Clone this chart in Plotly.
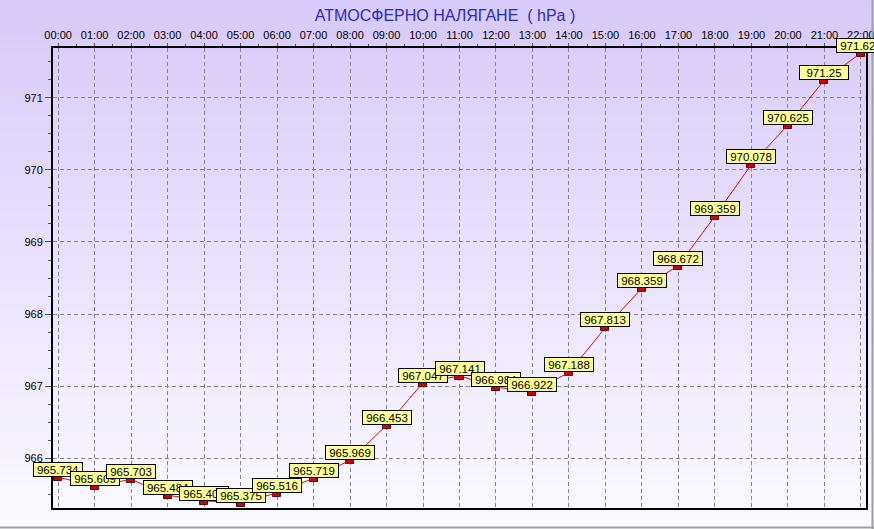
import plotly.graph_objects as go

hours = list(range(23))
hour_labels = [f"{h:02d}:00" for h in hours]
pressure = [965.734, 965.609, 965.703, 965.484, 965.406, 965.375, 965.516, 965.719,
            965.969, 966.453, 967.047, 967.141, 966.984, 966.922, 967.188, 967.813,
            968.359, 968.672, 969.359, 970.078, 970.625, 971.25, 971.625]
y_ticks = [966, 967, 968, 969, 970, 971]
title_text = "АТМОСФЕРНО НАЛЯГАНЕ  ( hPa )"

W, H = 874, 529
ML, MR, MT, MB = 53, 8, 48, 21
PW, PH = W - ML - MR, H - MT - MB

fig = go.Figure()

# red connecting line
fig.add_trace(go.Scatter(x=hours, y=pressure, mode="lines",
                         line=dict(color="#d81010", width=1), hoverinfo="skip",
                         showlegend=False, cliponaxis=False))
# rectangular markers (hang just below each point)
mk_h = 0.055
fig.add_trace(go.Bar(x=hours, y=[mk_h] * len(pressure), base=[v - mk_h for v in pressure],
                     width=0.22, marker=dict(color="#cc0000", line=dict(color="#5a0000", width=1)),
                     showlegend=False, hoverinfo="skip"))

# gradient background
shapes = []
n = 60
x0p, x1p = -ML / PW, 1 + MR / PW
ytop, ybot = 1 + MT / PH, -MB / PH
c_top = (216, 202, 250)
c_bot = (251, 250, 255)
for i in range(n):
    t = i / (n - 1)
    c = tuple(round(c_top[k] + (c_bot[k] - c_top[k]) * t) for k in range(3))
    ya = ytop + (ybot - ytop) * i / n
    yb = ytop + (ybot - ytop) * (i + 1) / n
    shapes.append(dict(type="rect", xref="paper", yref="paper", x0=x0p, x1=x1p,
                       y0=yb - 0.002, y1=ya, fillcolor=f"rgb{c}", line=dict(width=0), layer="below"))
# window border lines
shapes.append(dict(type="line", xref="paper", yref="paper", x0=x0p, x1=x1p,
                   y0=-(MB - 1.5) / PH, y1=-(MB - 1.5) / PH, line=dict(color="#a0a0a0", width=2)))
shapes.append(dict(type="line", xref="paper", yref="paper", x0=1 + (MR - 1.5) / PW, x1=1 + (MR - 1.5) / PW,
                   y0=ybot, y1=ytop, line=dict(color="#a0a0a0", width=2)))

annotations = []
for h, v in zip(hours, pressure):
    annotations.append(dict(x=h, y=v, xref="x", yref="y", text=str(v), showarrow=False,
                            xanchor="center", yanchor="bottom", yshift=0,
                            width=46, height=11, align="center", valign="middle",
                            font=dict(family="Liberation Sans, Arial", size=11.5, color="black"),
                            bgcolor="#ffff99", bordercolor="black", borderwidth=1, borderpad=1))

fig.update_layout(
    width=W, height=H,
    margin=dict(l=ML, r=MR, t=MT, b=MB, autoexpand=False),
    paper_bgcolor="rgb(236,230,252)",
    plot_bgcolor="rgba(0,0,0,0)",
    shapes=shapes,
    annotations=annotations,
    bargap=0,
    title=dict(text=title_text, x=445 / W, xanchor="center", y=1 - 15 / H, yanchor="middle",
               xref="container", yref="container",
               font=dict(family="Liberation Sans, Arial", size=16, color="#2a2acc")),
    xaxis=dict(range=[-0.14, 22.14], side="top", tickvals=hours, ticktext=hour_labels,
               automargin=False, ticklabeloverflow="allow",
               showgrid=True, gridcolor="#8a8496", griddash="4px,3px", gridwidth=1,
               showline=True, linecolor="black", linewidth=2, mirror=True,
               ticks="outside", ticklen=3, tickcolor="#555", tickfont=dict(family="Liberation Sans, Arial", size=11, color="black"),
               minor=dict(dtick=0.5, ticks="outside", ticklen=2, tickcolor="#555", showgrid=False),
               zeroline=False, fixedrange=True),
    yaxis=dict(range=[965.306, 971.694], tickvals=y_ticks, automargin=False,
               showgrid=True, gridcolor="#8a8496", griddash="4px,3px", gridwidth=1,
               showline=True, linecolor="black", linewidth=2, mirror=True,
               ticks="outside", ticklen=6, tickcolor="#555",
               tickfont=dict(family="Liberation Sans, Arial", size=11, color="black"),
               minor=dict(dtick=0.25, tick0=966, ticks="outside", ticklen=3, tickcolor="#555", showgrid=False),
               zeroline=False, fixedrange=True),
)

fig.write_html("out.html", config={"displayModeBar": False},
               post_script="document.body.style.margin='0';document.body.style.overflow='hidden';")
